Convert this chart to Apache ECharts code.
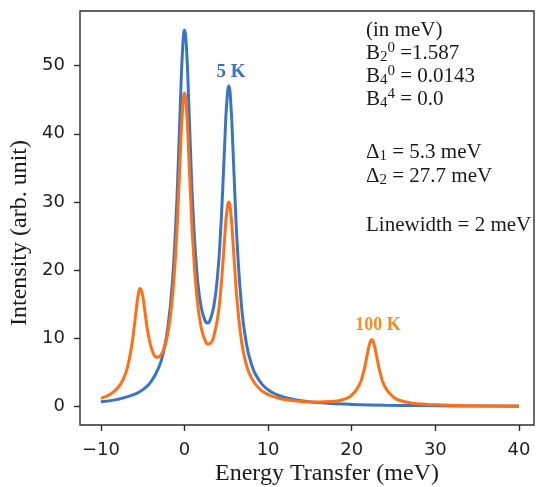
<!DOCTYPE html>
<html><head><meta charset="utf-8">
<script src="https://cdn.jsdelivr.net/npm/echarts@6/dist/echarts.min.js"></script>
<style>html,body{margin:0;padding:0;background:#fff}#c{width:537px;height:487px}</style>
</head><body><div id="c"></div>
<script>
const xTicks = [-10, 0, 10, 20, 30, 40];
const yTicks = [0, 10, 20, 30, 40, 50];
const seriesNames = ['5 K', '100 K'];

const blueE = [-10, -8, -6, -5, -4, -3, -2.5, -2, -1.5, -1, -0.75, -0.5, -0.25, 0, 0.25, 0.5, 0.75, 1, 1.5, 2, 2.5, 2.75, 3, 3.5, 4, 4.3, 4.55, 4.8, 5.05, 5.3, 5.55, 5.8, 6.05, 6.3, 6.8, 7.3, 8, 9, 10, 11, 12, 14, 16, 18, 20, 24, 28, 32, 36, 40];
const blueI = [0.72, 1.08, 1.80, 2.49, 3.67, 6.01, 8.13, 11.56, 17.46, 27.94, 35.54, 44.22, 51.92, 55.20, 52.20, 44.80, 36.42, 29.14, 19.43, 14.53, 12.51, 12.28, 12.54, 14.70, 19.94, 25.33, 31.37, 38.35, 44.52, 46.99, 44.18, 37.67, 30.33, 23.90, 15.03, 10.02, 6.27, 3.73, 2.49, 1.79, 1.35, 0.86, 0.60, 0.44, 0.34, 0.22, 0.16, 0.12, 0.09, 0.07];

const orangeE = [-10, -9, -8, -7.3, -6.8, -6.3, -6.05, -5.8, -5.55, -5.3, -5.05, -4.8, -4.55, -4.3, -3.8, -3.3, -2.8, -2.3, -2, -1.5, -1, -0.75, -0.5, -0.25, 0, 0.25, 0.5, 0.75, 1, 1.5, 2, 2.5, 2.8, 3.2, 3.5, 4, 4.3, 4.55, 4.8, 5.05, 5.3, 5.55, 5.8, 6.05, 6.3, 6.8, 7.3, 8, 9, 10, 11, 12, 14, 16, 18, 19, 20, 20.9, 21.4, 21.65, 21.9, 22.15, 22.4, 22.65, 22.9, 23.15, 23.4, 23.9, 25, 26, 28, 30, 34, 40];
const orangeI = [1.24, 1.75, 2.73, 4.11, 5.92, 9.07, 11.34, 13.94, 16.26, 17.31, 16.56, 14.56, 12.28, 10.36, 8.01, 7.24, 7.61, 9.12, 10.74, 15.30, 23.75, 29.95, 37.06, 43.35, 45.99, 43.44, 37.23, 30.20, 24.09, 15.87, 11.58, 9.61, 9.19, 9.43, 10.26, 13.34, 16.63, 20.35, 24.67, 28.49, 30.00, 28.21, 24.08, 19.45, 15.40, 9.79, 6.62, 4.23, 2.60, 1.79, 1.34, 1.06, 0.77, 0.68, 0.81, 1.06, 1.69, 3.19, 5.03, 6.35, 7.90, 9.25, 9.81, 9.24, 7.88, 6.34, 4.99, 3.13, 1.40, 0.84, 0.42, 0.27, 0.15, 0.09];

const infoLines = [
  '(in meV)',
  'B{sub|2}{sup|0} =1.587',
  'B{sub|4}{sup|0} = 0.0143',
  'B{sub|4}{sup|4} = 0.0',
  '\u0394{sub|1} = 5.3 meV',
  '\u0394{sub|2} = 27.7 meV',
  'Linewidth = 2 meV'
];
const infoTops = [18, 41, 64, 87, 140, 164, 213];

const blueColor = '#3a75c5';
const orangeColor = '#ff6f14';
const serif = '"Liberation Serif", "DejaVu Serif", serif';

function pairs(xs, ys) { return xs.map((x, i) => [x, ys[i]]); }
const minus = v => String(v).replace('-', '\u2212');

const chart = echarts.init(document.getElementById('c'), null, {renderer: 'canvas'});

const graphics = [];
infoLines.forEach((t, i) => {
  graphics.push({
    type: 'text', x: 366, y: infoTops[i], silent: true,
    style: {
      text: t, fill: '#1a1a1a', fontFamily: serif, fontSize: 21, lineHeight: 24,
      align: 'left', verticalAlign: 'top',
      rich: {
        sub: {fontFamily: serif, fontSize: 15, lineHeight: 6, verticalAlign: 'bottom', fill: '#1a1a1a'},
        sup: {fontFamily: serif, fontSize: 15, lineHeight: 12, verticalAlign: 'top', fill: '#1a1a1a'}
      }
    }
  });
});
graphics.push({
  type: 'text', x: 231, y: 72.5, silent: true,
  style: {text: seriesNames[0], fill: '#3d6fc4', fontFamily: serif, fontWeight: 'bold', fontSize: 19, align: 'center', verticalAlign: 'middle'}
});
graphics.push({
  type: 'text', x: 378, y: 325.5, silent: true,
  style: {text: seriesNames[1], fill: '#f58d1f', fontFamily: serif, fontWeight: 'bold', fontSize: 18, align: 'center', verticalAlign: 'middle'}
});
graphics.push({
  type: 'text', x: 327, y: 474, silent: true,
  style: {text: 'Energy Transfer (meV)', fill: '#1a1a1a', fontFamily: serif, fontSize: 24, align: 'center', verticalAlign: 'middle'}
});
graphics.push({
  type: 'text', x: 20, y: 233, rotation: Math.PI / 2, silent: true,
  style: {text: 'Intensity (arb. unit)', fill: '#1a1a1a', fontFamily: serif, fontSize: 24, align: 'center', verticalAlign: 'middle'}
});

chart.setOption({
  animation: false,
  backgroundColor: '#ffffff',
  grid: {left: 80, right: 3, top: 11, bottom: 62, show: true, borderColor: '#2e2e2e', borderWidth: 1.4, backgroundColor: 'transparent'},
  xAxis: {
    type: 'value', min: -12.5, max: 41.8,
    axisLine: {show: false, onZero: false},
    splitLine: {show: false},
    axisTick: {show: true, length: 6, inside: false, customValues: xTicks, lineStyle: {color: '#2e2e2e', width: 1.4}},
    axisLabel: {customValues: xTicks, formatter: minus, color: '#1e1e1e', fontFamily: 'DejaVu Sans', fontSize: 18, margin: 16}
  },
  yAxis: {
    type: 'value', min: -2.68, max: 58.0,
    axisLine: {show: false, onZero: false},
    splitLine: {show: false},
    axisTick: {show: true, length: 6, inside: false, customValues: yTicks, lineStyle: {color: '#2e2e2e', width: 1.4}},
    axisLabel: {customValues: yTicks, formatter: minus, color: '#1e1e1e', fontFamily: 'DejaVu Sans', fontSize: 18, margin: 15}
  },
  series: [
    {name: seriesNames[0], type: 'line', data: pairs(blueE, blueI), showSymbol: false, smooth: 0.5,
     lineStyle: {color: blueColor, width: 3}, itemStyle: {color: blueColor}, z: 2},
    {name: seriesNames[1], type: 'line', data: pairs(orangeE, orangeI), showSymbol: false, smooth: 0.5,
     lineStyle: {color: orangeColor, width: 3}, itemStyle: {color: orangeColor}, z: 3}
  ],
  graphic: graphics
});
</script>
</body></html>
